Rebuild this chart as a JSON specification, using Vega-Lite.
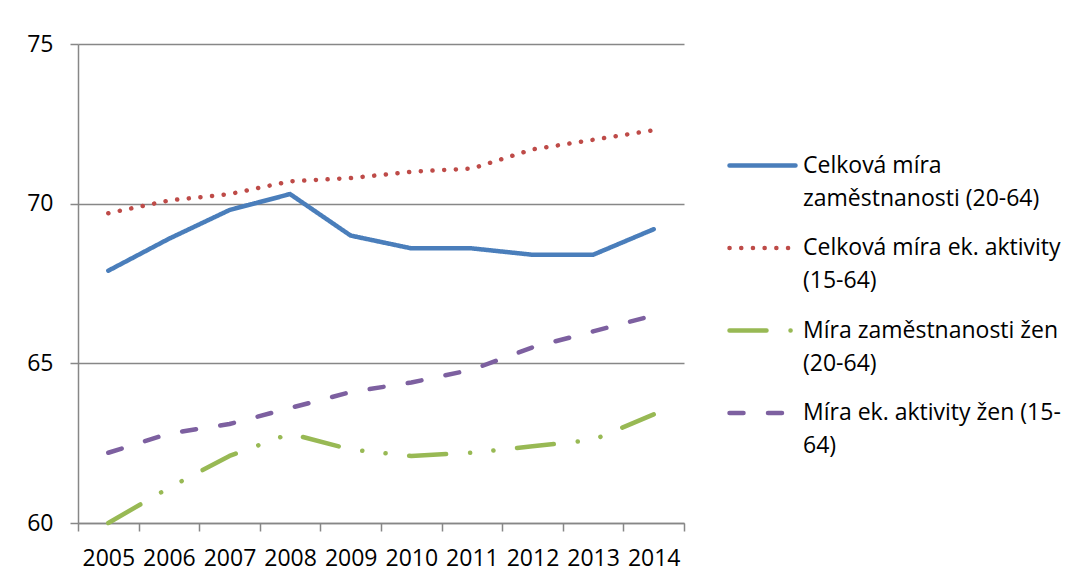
{
  "$schema": "https://vega.github.io/schema/vega-lite/v6.json",
  "width": 606,
  "height": 479,
  "autosize": {"type": "none"},
  "padding": {"left": 78, "top": 44, "right": 402, "bottom": 60},
  "background": "white",
  "config": {
    "view": {"stroke": null},
    "font": "Open Sans",
    "axis": {
      "labelFont": "Open Sans",
      "labelFontSize": 23,
      "labelColor": "black",
      "domainColor": "#878787",
      "domainWidth": 1.5,
      "tickColor": "#878787",
      "tickWidth": 1.5,
      "tickSize": 8,
      "gridColor": "#878787",
      "gridWidth": 1.5,
      "title": null
    },
    "legend": {
      "labelFont": "Open Sans",
      "labelFontSize": 23,
      "labelColor": "black",
      "labelLimit": 400
    }
  },
  "data": {
    "values": [
      {"year": "2005", "series": "Celková míra zaměstnanosti (20-64)", "value": 67.9},
      {"year": "2006", "series": "Celková míra zaměstnanosti (20-64)", "value": 68.9},
      {"year": "2007", "series": "Celková míra zaměstnanosti (20-64)", "value": 69.8},
      {"year": "2008", "series": "Celková míra zaměstnanosti (20-64)", "value": 70.3},
      {"year": "2009", "series": "Celková míra zaměstnanosti (20-64)", "value": 69.0},
      {"year": "2010", "series": "Celková míra zaměstnanosti (20-64)", "value": 68.6},
      {"year": "2011", "series": "Celková míra zaměstnanosti (20-64)", "value": 68.6},
      {"year": "2012", "series": "Celková míra zaměstnanosti (20-64)", "value": 68.4},
      {"year": "2013", "series": "Celková míra zaměstnanosti (20-64)", "value": 68.4},
      {"year": "2014", "series": "Celková míra zaměstnanosti (20-64)", "value": 69.2},
      {"year": "2005", "series": "Celková míra ek. aktivity (15-64)", "value": 69.7},
      {"year": "2006", "series": "Celková míra ek. aktivity (15-64)", "value": 70.1},
      {"year": "2007", "series": "Celková míra ek. aktivity (15-64)", "value": 70.3},
      {"year": "2008", "series": "Celková míra ek. aktivity (15-64)", "value": 70.7},
      {"year": "2009", "series": "Celková míra ek. aktivity (15-64)", "value": 70.8},
      {"year": "2010", "series": "Celková míra ek. aktivity (15-64)", "value": 71.0},
      {"year": "2011", "series": "Celková míra ek. aktivity (15-64)", "value": 71.1},
      {"year": "2012", "series": "Celková míra ek. aktivity (15-64)", "value": 71.7},
      {"year": "2013", "series": "Celková míra ek. aktivity (15-64)", "value": 72.0},
      {"year": "2014", "series": "Celková míra ek. aktivity (15-64)", "value": 72.3},
      {"year": "2005", "series": "Míra zaměstnanosti žen (20-64)", "value": 60.0},
      {"year": "2006", "series": "Míra zaměstnanosti žen (20-64)", "value": 61.1},
      {"year": "2007", "series": "Míra zaměstnanosti žen (20-64)", "value": 62.1},
      {"year": "2008", "series": "Míra zaměstnanosti žen (20-64)", "value": 62.8},
      {"year": "2009", "series": "Míra zaměstnanosti žen (20-64)", "value": 62.3},
      {"year": "2010", "series": "Míra zaměstnanosti žen (20-64)", "value": 62.1},
      {"year": "2011", "series": "Míra zaměstnanosti žen (20-64)", "value": 62.2},
      {"year": "2012", "series": "Míra zaměstnanosti žen (20-64)", "value": 62.4},
      {"year": "2013", "series": "Míra zaměstnanosti žen (20-64)", "value": 62.6},
      {"year": "2014", "series": "Míra zaměstnanosti žen (20-64)", "value": 63.4},
      {"year": "2005", "series": "Míra ek. aktivity žen (15-64)", "value": 62.2},
      {"year": "2006", "series": "Míra ek. aktivity žen (15-64)", "value": 62.8},
      {"year": "2007", "series": "Míra ek. aktivity žen (15-64)", "value": 63.1},
      {"year": "2008", "series": "Míra ek. aktivity žen (15-64)", "value": 63.6},
      {"year": "2009", "series": "Míra ek. aktivity žen (15-64)", "value": 64.1},
      {"year": "2010", "series": "Míra ek. aktivity žen (15-64)", "value": 64.4},
      {"year": "2011", "series": "Míra ek. aktivity žen (15-64)", "value": 64.8},
      {"year": "2012", "series": "Míra ek. aktivity žen (15-64)", "value": 65.5},
      {"year": "2013", "series": "Míra ek. aktivity žen (15-64)", "value": 66.0},
      {"year": "2014", "series": "Míra ek. aktivity žen (15-64)", "value": 66.5}
    ]
  },
  "mark": {"type": "line", "strokeWidth": 4.5, "strokeCap": "round", "strokeJoin": "round"},
  "encoding": {
    "x": {
      "field": "year",
      "type": "ordinal",
      "bandPosition": 0.5,
      "scale": {"type": "band", "paddingInner": 0, "paddingOuter": 0},
      "axis": {"labelAngle": 0, "tickBand": "extent", "grid": false, "labelPadding": 16, "labelBaseline": "top"}
    },
    "y": {
      "field": "value",
      "type": "quantitative",
      "scale": {"domain": [60, 75], "zero": false, "nice": false},
      "axis": {"values": [60, 65, 70, 75], "grid": true, "labelPadding": 17, "domain": true}
    },
    "color": {
      "field": "series",
      "type": "nominal",
      "scale": {
        "domain": ["Celková míra zaměstnanosti (20-64)", "Celková míra ek. aktivity (15-64)", "Míra zaměstnanosti žen (20-64)", "Míra ek. aktivity žen (15-64)"],
        "range": ["#4A7EBB", "#BE4B48", "#98B954", "#7D60A0"]
      },
      "legend": {
        "title": null,
        "orient": "none",
        "legendX": 649,
        "legendY": 86,
        "symbolType": "stroke",
        "symbolSize": 4356,
        "symbolStrokeWidth": 4.5,
        "labelOffset": 5,
        "labelBaseline": "alphabetic",
        "rowPadding": 1.5,
        "padding": 0,
        "labelExpr": "datum.label == 'Celková míra zaměstnanosti (20-64)' ? ['Celková míra', 'zaměstnanosti (20-64)'] : datum.label == 'Celková míra ek. aktivity (15-64)' ? ['Celková míra ek. aktivity', '(15-64)'] : datum.label == 'Míra zaměstnanosti žen (20-64)' ? ['Míra zaměstnanosti žen', '(20-64)'] : ['Míra ek. aktivity žen (15-', '64)']",
        "encode": {
          "symbols": {"update": {"strokeCap": {"value": "round"}}},
          "labels": {"update": {"lineHeight": {"value": 33}, "dy": {"value": 7}}}
        }
      }
    },
    "strokeDash": {
      "field": "series",
      "type": "nominal",
      "scale": {
        "domain": ["Celková míra zaměstnanosti (20-64)", "Celková míra ek. aktivity (15-64)", "Míra zaměstnanosti žen (20-64)", "Míra ek. aktivity žen (15-64)"],
        "range": [[1, 0], [0.1, 11.6], [37, 24, 0.1, 23.3, 0.1, 23.7], [14, 24.5]]
      },
      "legend": null
    }
  }
}
